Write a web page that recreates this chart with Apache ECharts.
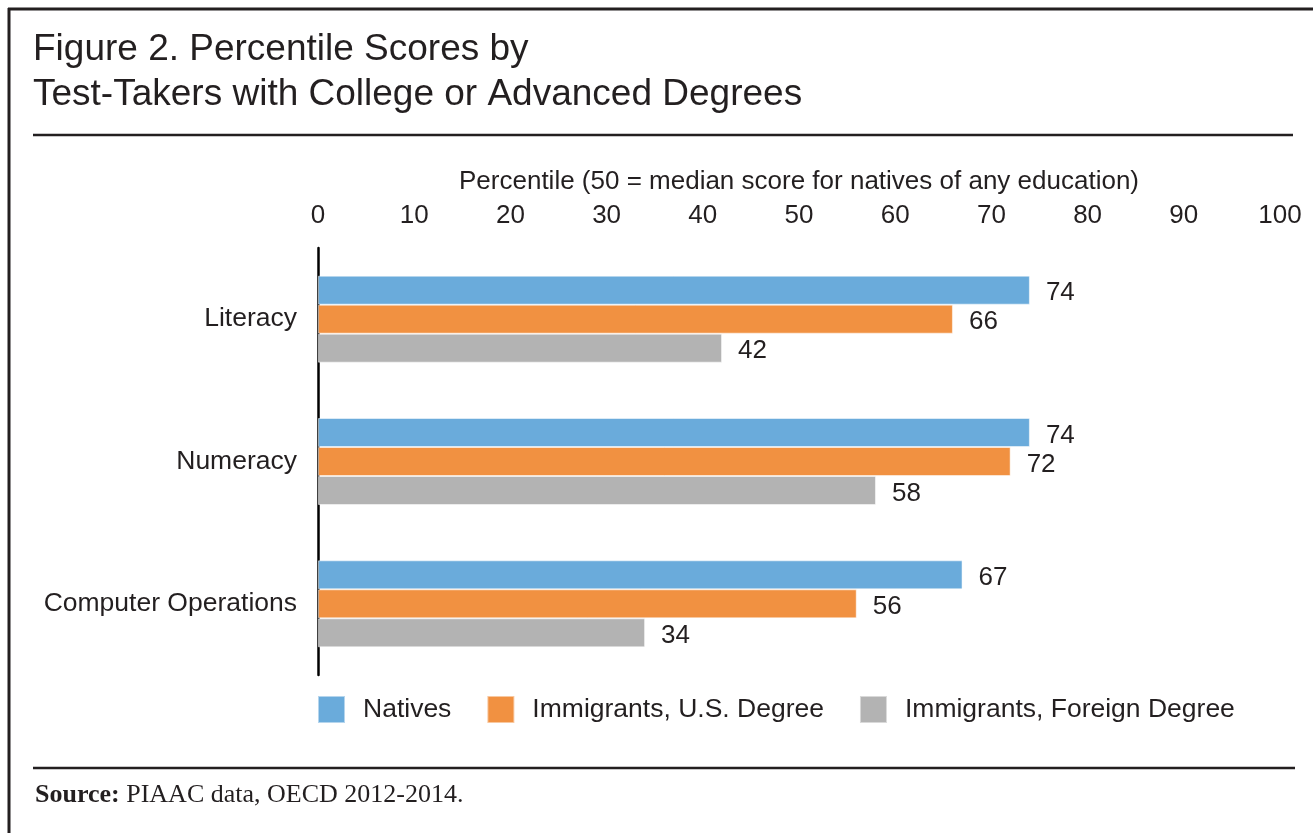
<!DOCTYPE html>
<html lang="en" style="height: 100%">
<head>
    <meta charset="UTF-8">
    <title>Figure 2. Percentile Scores</title>
    <script src="https://cdn.jsdelivr.net/npm/echarts@6/dist/echarts.min.js"></script>
</head>
<body style="height: 100%; margin: 0; background: #fff">
<div id="main" style="width: 1313px; height: 833px"></div>
<script>
    var categories = ['Literacy', 'Numeracy', 'Computer Operations'];
    var natives = [74, 74, 67];
    var immigrantsUS = [66, 72, 56];
    var immigrantsForeign = [42, 58, 34];
    var seriesNames = ['Natives', 'Immigrants, U.S. Degree', 'Immigrants, Foreign Degree'];
    var colors = ['#6aabdb', '#f19141', '#b3b3b3'];

    var ink = '#231f20';
    var sans = 'Liberation Sans, Arial, Helvetica, sans-serif';

    function bar(name, data, color) {
        return {
            name: name,
            type: 'bar',
            data: data,
            barWidth: 29,
            barGap: '0%',
            itemStyle: {color: color, borderColor: 'rgba(255,255,255,0.5)', borderWidth: 1},
            label: {
                show: true,
                position: 'right',
                distance: 16,
                color: ink,
                fontSize: 26,
                fontFamily: sans,
                offset: [0, 3]
            }
        };
    }

    var myoption = {
        backgroundColor: '#fff',
        animation: false,
        title: {
            text: 'Figure 2. Percentile Scores by\nTest-Takers with College or Advanced Degrees',
            left: 28,
            top: 22,
            textStyle: {
                color: ink,
                fontSize: 37,
                fontWeight: 'normal',
                fontFamily: sans,
                lineHeight: 45
            }
        },
        legend: {
            left: 312,
            top: 690,
            itemWidth: 27,
            itemHeight: 27,
            itemGap: 35,
            icon: 'rect',
            data: seriesNames,
            textStyle: {color: ink, fontSize: 26.5, fontFamily: sans, padding: [0, 0, 0, 13]}
        },
        grid: {
            left: 318,
            top: 248,
            width: 962,
            height: 427
        },
        xAxis: {
            type: 'value',
            position: 'top',
            min: 0,
            max: 100,
            interval: 10,
            name: 'Percentile (50 = median score for natives of any education)',
            nameLocation: 'middle',
            nameGap: 53,
            nameTextStyle: {color: ink, fontSize: 26, fontFamily: sans},
            axisLine: {show: false},
            axisTick: {show: false},
            splitLine: {show: false},
            axisLabel: {color: ink, fontSize: 26, fontFamily: sans, margin: 19}
        },
        yAxis: {
            type: 'category',
            data: categories,
            inverse: true,
            axisLine: {show: true, lineStyle: {color: '#000', width: 2.5}},
            axisTick: {show: false},
            axisLabel: {color: ink, fontSize: 26.5, fontFamily: sans, margin: 21}
        },
        series: [
            bar(seriesNames[0], natives, colors[0]),
            bar(seriesNames[1], immigrantsUS, colors[1]),
            bar(seriesNames[2], immigrantsForeign, colors[2])
        ],
        graphic: [
            {type: 'line', shape: {x1: 8, y1: 9, x2: 1313, y2: 9}, style: {stroke: ink, lineWidth: 3}},
            {type: 'line', shape: {x1: 9, y1: 8, x2: 9, y2: 833}, style: {stroke: ink, lineWidth: 3}},
            {type: 'line', shape: {x1: 33, y1: 135, x2: 1293, y2: 135}, style: {stroke: ink, lineWidth: 2.5}},
            {type: 'line', shape: {x1: 33, y1: 768, x2: 1295, y2: 768}, style: {stroke: ink, lineWidth: 2.5}},
            {
                type: 'text',
                left: 35,
                top: 782,
                style: {
                    text: '{b|Source:} PIAAC data, OECD 2012-2014.',
                    rich: {
                        b: {fontWeight: 'bold', fontSize: 26, fontFamily: 'Liberation Serif, serif', fill: ink}
                    },
                    fontSize: 26,
                    fontFamily: 'Liberation Serif, serif',
                    fill: ink
                }
            }
        ]
    };
    var myChart = echarts.init(document.getElementById('main'));
    myChart.setOption(myoption);
</script>
</body>
</html>
